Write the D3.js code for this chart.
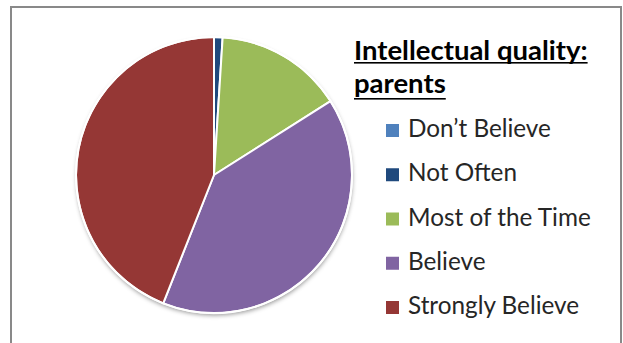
<!DOCTYPE html>
<html>
<head>
<meta charset="utf-8">
<script src="https://cdn.jsdelivr.net/npm/d3@7"></script>
<style>
  html, body { margin: 0; padding: 0; background: #fff; }
  svg { display: block; }
  text { font-family: Lato, "Open Sans", "Liberation Sans", sans-serif; }
</style>
</head>
<body>
<svg id="chart" width="623" height="343"></svg>
<script>
// Responses, in percent
const categories = ["Don\u2019t Believe", "Not Often", "Most of the Time", "Believe", "Strongly Believe"];
const values = [0, 1, 15, 40, 44];
const colors = ["#4F81BD", "#1F497D", "#9BBB59", "#8064A2", "#953735"];
const titleLines = ["Intellectual quality:", "parents"];

const svg = d3.select("#chart");
const W = 623, H = 343;

// outer frame
svg.append("rect")
  .attr("x", 11).attr("y", 7)
  .attr("width", 610).attr("height", H)
  .attr("fill", "#fff")
  .attr("stroke", "#898989")
  .attr("stroke-width", 2);

// soft shadow under the pie
const defs = svg.append("defs");
const f = defs.append("filter").attr("id", "shadow")
  .attr("x", "-10%").attr("y", "-10%").attr("width", "120%").attr("height", "120%");
f.append("feDropShadow")
  .attr("dx", 0.5).attr("dy", 2.5)
  .attr("stdDeviation", 2)
  .attr("flood-color", "#000")
  .attr("flood-opacity", 0.4);

const cx = 214, cy = 175, r = 138;

const pie = d3.pie().sort(null).value(d => d.value);
const arc = d3.arc().innerRadius(0).outerRadius(r);
const data = categories.map((c, i) => ({ name: c, value: values[i], color: colors[i] }));

const g = svg.append("g").attr("transform", `translate(${cx},${cy})`);

// shadow disc behind the slices
g.append("circle").attr("r", r).attr("fill", "#fff").attr("filter", "url(#shadow)");

g.selectAll("path.slice")
  .data(pie(data))
  .join("path")
  .attr("class", "slice")
  .attr("d", arc)
  .attr("fill", d => d.data.color)
  .attr("stroke", "#fff")
  .attr("stroke-width", 2)
  .attr("stroke-linejoin", "round");

// outer white rim
g.append("circle").attr("r", r).attr("fill", "none")
  .attr("stroke", "#fff").attr("stroke-width", 2);

// legend title, bold and underlined
const titleX = 354;
const titleBaselines = [60, 93];
const titleG = svg.append("g");
titleLines.forEach((t, i) => {
  const tx = titleG.append("text")
    .attr("x", titleX).attr("y", titleBaselines[i])
    .attr("font-size", 27.5)
    .attr("font-weight", "bold")
    .attr("fill", "#000")
    .text(t);
  const w = tx.node().getComputedTextLength();
  titleG.append("rect")
    .attr("x", titleX).attr("y", titleBaselines[i] + (i === 0 ? 2 : 5))
    .attr("width", w).attr("height", 1.6)
    .attr("fill", "#000");
});

// legend entries
const legendY = d3.scalePoint().domain(categories).range([137, 314]);
const item = svg.append("g").selectAll("g")
  .data(data)
  .join("g")
  .attr("transform", d => `translate(386,${legendY(d.name)})`);

item.append("rect")
  .attr("x", 0).attr("y", -13)
  .attr("width", 13).attr("height", 13)
  .attr("fill", d => d.color);

item.append("text")
  .attr("x", 22).attr("y", 0)
  .attr("font-size", 24.3)
  .attr("fill", "#262626")
  .text(d => d.name);
</script>
</body>
</html>
